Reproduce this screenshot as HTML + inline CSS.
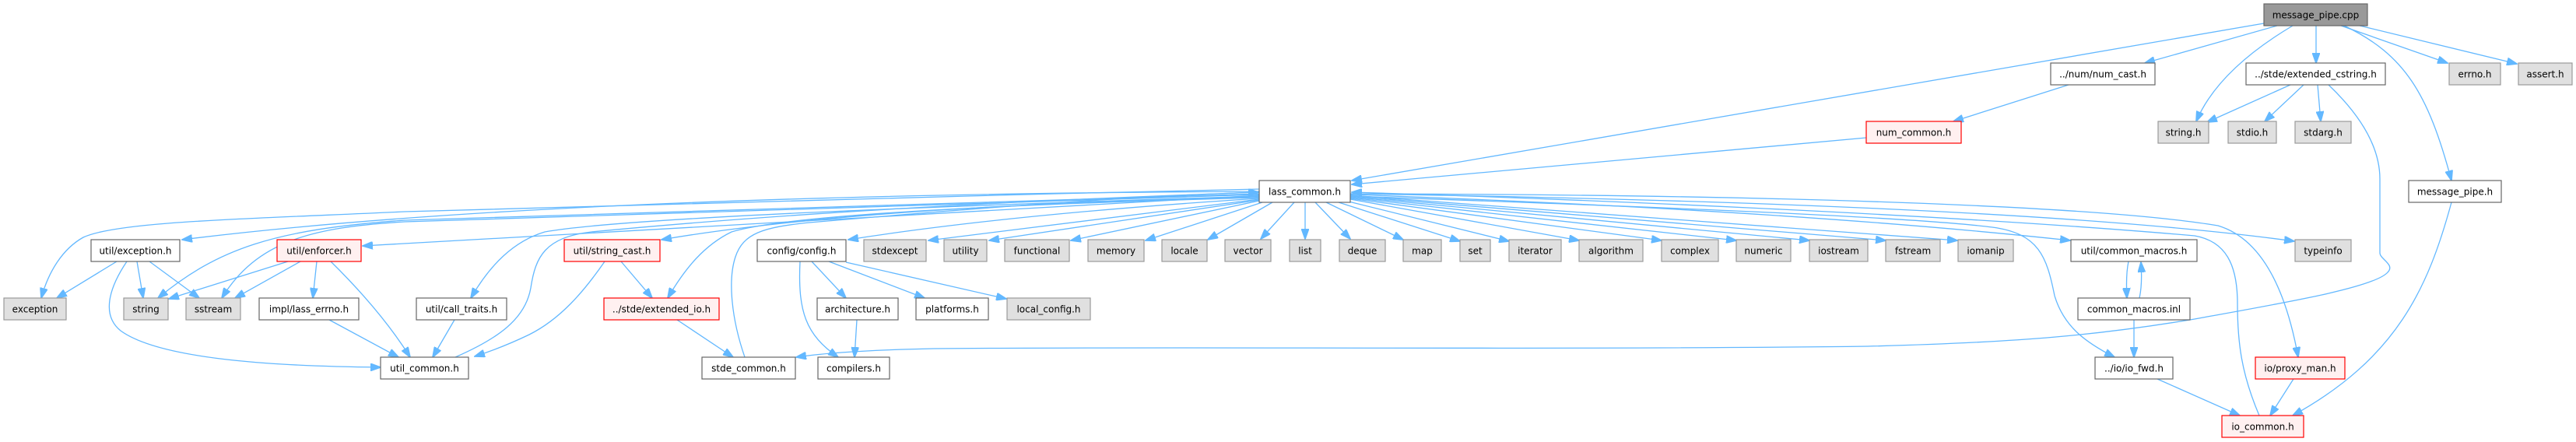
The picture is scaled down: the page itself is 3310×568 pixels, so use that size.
<!DOCTYPE html>
<html><head><meta charset="utf-8"><style>
html,body{margin:0;padding:0;background:#fff;}
svg{display:block;}
text{font-family:"DejaVu Sans","Liberation Sans",sans-serif;font-size:12px;fill:#000;text-anchor:middle;}
.e{fill:none;stroke:#63b8ff;stroke-width:1.3;marker-end:url(#a);}
.n{fill:none;stroke:#63b8ff;stroke-width:1.3;}
.w{fill:#fff;stroke:#666;stroke-width:1.2;}
.g{fill:#e0e0e0;stroke:#999;stroke-width:1.2;}
.r{fill:#fff0f0;stroke:#f00;stroke-width:1.2;}
.k{fill:#999;stroke:#666;stroke-width:1.2;}
</style></head><body>
<svg width="3310" height="568" viewBox="0 0 3310 568" xmlns="http://www.w3.org/2000/svg">
<defs><marker id="a" markerWidth="14" markerHeight="10" refX="13" refY="5" orient="auto" markerUnits="userSpaceOnUse"><path d="M0,0 L14,5 L0,10 z" fill="#63b8ff" stroke="#63b8ff" stroke-width="1"/></marker></defs>

<!-- edges from message_pipe.cpp -->
<path class="e" d="M2909,30 L1737,232"/>
<path class="e" d="M2926,33 L2756,81"/>
<path class="e" d="M2946,33 Q2850,90 2822,156"/>
<path class="e" d="M2976,33 L2976,81"/>
<path class="e" d="M3008,33 L3145,81"/>
<path class="e" d="M3032,33 L3234,82"/>
<path class="e" d="M3012,33 C3090,70 3120,120 3150,232"/>
<!-- num_cast -->
<path class="e" d="M2658,109 L2510,156"/>
<!-- extended_cstring -->
<path class="e" d="M2943,109 L2836,157"/>
<path class="e" d="M2960,109 L2910,156"/>
<path class="e" d="M2978,109 L2982,156"/>
<path class="e" d="M2992,109 C3035,150 3058,190 3058,230 L3058,325 C3058,333 3078,340 3068,350 C3050,370 2930,390 2820,410 C2700,430 2600,440 2400,445 C2000,450 1500,445 1200,448 C1100,450 1050,455 1023,459"/>
<!-- num_common -->
<path class="e" d="M2398,177 L1737,237"/>

<!-- lass_common outgoing left -->
<path class="e" d="M1618,243 C1200,252 700,265 520,272 C300,282 150,285 107,305 C80,320 62,350 53,383"/>
<path class="e" d="M1618,246 Q700,250 234,308"/>
<path class="e" d="M1618,249 L520,283 C350,295 280,320 203,383"/>
<path class="e" d="M1618,250 L520,285 C400,292 330,310 285,383"/>
<path class="e" d="M1618,251 L466,316"/>
<path class="e" d="M1618,252 C1200,265 800,280 700,298 C660,310 630,340 605,383"/>
<path class="e" d="M1618,253 Q1100,265 850,308"/>
<path class="e" d="M1618,254 C1200,265 1000,280 940,298 C905,315 880,345 858,383"/>
<path class="e" d="M1618,255 Q1300,275 1090,308"/>
<path class="e" d="M1618,256 L1193,309"/>
<path class="e" d="M1618,257 L1271,309"/>
<path class="e" d="M1618,258 L1376,309"/>
<path class="e" d="M1622,260 L1472,309"/>
<path class="e" d="M1635,260 L1552,308"/>
<!-- bottom -->
<path class="e" d="M1663,260 L1620,307"/>
<path class="e" d="M1677,260 L1677,307"/>
<path class="e" d="M1690,260 L1735,307"/>
<path class="e" d="M1704,260 L1803,308"/>
<path class="e" d="M1720,260 L1876,310"/>
<path class="e" d="M1733,259 L1939,310"/>
<!-- right -->
<path class="e" d="M1735,256 L2029,309"/>
<path class="e" d="M1735,255 L2135,309"/>
<path class="e" d="M1735,254 L2231,309"/>
<path class="e" d="M1735,253 L2325,309"/>
<path class="e" d="M1735,252 L2423,309"/>
<path class="e" d="M1735,251 L2515,309"/>
<path class="e" d="M1735,250 Q2300,270 2660,309"/>
<path class="e" d="M1735,249 Q2600,262 2948,310"/>
<path class="e" d="M1735,252 C2100,265 2450,278 2560,292 C2620,300 2630,330 2640,380 C2652,420 2680,440 2717,459"/>
<path class="e" d="M1735,249 C2300,250 2700,265 2850,290 C2900,305 2935,360 2953,459"/>
<!-- incoming to lass_common -->
<path class="e" d="M585,459 C640,435 675,410 682,370 C688,330 700,305 760,298 C1000,275 1300,258 1617,247"/>
<path class="e" d="M957,459 C940,410 935,360 945,330 C955,300 980,292 1040,286 C1250,268 1450,252 1617,247"/>
<path class="e" d="M2903,534 C2880,480 2875,440 2875,390 C2875,340 2860,310 2820,303 C2500,275 2000,255 1737,247"/>

<!-- util/exception.h -->
<path class="e" d="M150,336 L73,383"/>
<path class="e" d="M176,336 L184,383"/>
<path class="e" d="M192,336 L256,383"/>
<path class="e" d="M163,336 C140,370 130,405 155,425 C210,465 380,471 489,472"/>
<!-- enforcer -->
<path class="e" d="M370,336 L217,384"/>
<path class="e" d="M386,336 L302,383"/>
<path class="e" d="M407,336 L402,383"/>
<path class="e" d="M425,336 Q490,400 527,459"/>
<path class="e" d="M423,411 L512,459"/>
<path class="e" d="M584,411 L556,459"/>
<!-- string_cast -->
<path class="e" d="M777,336 C750,375 720,410 680,430 C655,442 635,450 610,458"/>
<path class="e" d="M798,336 L838,383"/>
<path class="e" d="M870,411 L942,459"/>
<!-- config -->
<path class="e" d="M1043,336 L1087,383"/>
<path class="e" d="M1065,336 L1188,383"/>
<path class="e" d="M1087,337 L1293,384"/>
<path class="e" d="M1028,336 C1025,400 1035,430 1077,459"/>
<path class="e" d="M1101,411 L1098,459"/>
<!-- common_macros -->
<path class="e" d="M2735,336 C2732,350 2732,365 2733,383"/>
<path class="e" d="M2749,383 C2752,370 2752,352 2751,337"/>
<path class="e" d="M2742,411 L2742,459"/>
<path class="e" d="M2772,487 L2878,534"/>
<path class="e" d="M2947,487 L2917,534"/>
<path class="e" d="M3150,260 C3120,370 3080,460 2946,534"/>

<!-- nodes -->
<rect class="k" x="2909" y="5" width="133" height="28"/><text x="2975.5" y="23.5">message_pipe.cpp</text>

<rect class="w" x="2635" y="81" width="134" height="28"/><text x="2702" y="99.5">../num/num_cast.h</text>
<rect class="w" x="2886" y="81" width="179" height="28"/><text x="2975.5" y="99.5">../stde/extended_cstring.h</text>
<rect class="g" x="3147" y="81" width="66" height="28"/><text x="3180" y="99.5">errno.h</text>
<rect class="g" x="3236" y="81" width="69" height="28"/><text x="3270.5" y="99.5">assert.h</text>

<rect class="r" x="2398" y="156" width="122" height="28"/><text x="2459" y="174.5">num_common.h</text>
<rect class="g" x="2773" y="156" width="65" height="28"/><text x="2805.5" y="174.5">string.h</text>
<rect class="g" x="2863" y="156" width="62" height="28"/><text x="2894" y="174.5">stdio.h</text>
<rect class="g" x="2949" y="156" width="72" height="28"/><text x="2985" y="174.5">stdarg.h</text>

<rect class="w" x="1618" y="232" width="117" height="28"/><text x="1676.5" y="250.5">lass_common.h</text>
<rect class="w" x="3095" y="232" width="119" height="28"/><text x="3154.5" y="250.5">message_pipe.h</text>

<rect class="w" x="117" y="308" width="114" height="28"/><text x="174" y="326.5">util/exception.h</text>
<rect class="r" x="356" y="308" width="108" height="28"/><text x="410" y="326.5">util/enforcer.h</text>
<rect class="r" x="725" y="308" width="123" height="28"/><text x="786.5" y="326.5">util/string_cast.h</text>
<rect class="w" x="973" y="308" width="114" height="28"/><text x="1030" y="326.5">config/config.h</text>
<rect class="g" x="1110" y="308" width="80" height="28"/><text x="1150" y="326.5">stdexcept</text>
<rect class="g" x="1213" y="308" width="55" height="28"/><text x="1240.5" y="326.5">utility</text>
<rect class="g" x="1291" y="308" width="83" height="28"/><text x="1332.5" y="326.5">functional</text>
<rect class="g" x="1398" y="308" width="72" height="28"/><text x="1434" y="326.5">memory</text>
<rect class="g" x="1493" y="308" width="58" height="28"/><text x="1522" y="326.5">locale</text>
<rect class="g" x="1574" y="308" width="59" height="28"/><text x="1603.5" y="326.5">vector</text>
<rect class="g" x="1657" y="308" width="40" height="28"/><text x="1677" y="326.5">list</text>
<rect class="g" x="1721" y="308" width="59" height="28"/><text x="1750.5" y="326.5">deque</text>
<rect class="g" x="1803" y="308" width="49" height="28"/><text x="1827.5" y="326.5">map</text>
<rect class="g" x="1876" y="308" width="39" height="28"/><text x="1895.5" y="326.5">set</text>
<rect class="g" x="1939" y="308" width="67" height="28"/><text x="1972.5" y="326.5">iterator</text>
<rect class="g" x="2029" y="308" width="82" height="28"/><text x="2070" y="326.5">algorithm</text>
<rect class="g" x="2135" y="308" width="73" height="28"/><text x="2171.5" y="326.5">complex</text>
<rect class="g" x="2231" y="308" width="70" height="28"/><text x="2266" y="326.5">numeric</text>
<rect class="g" x="2325" y="308" width="75" height="28"/><text x="2362.5" y="326.5">iostream</text>
<rect class="g" x="2423" y="308" width="70" height="28"/><text x="2458" y="326.5">fstream</text>
<rect class="g" x="2516" y="308" width="71" height="28"/><text x="2551.5" y="326.5">iomanip</text>
<rect class="w" x="2661" y="308" width="162" height="28"/><text x="2742" y="326.5">util/common_macros.h</text>
<rect class="g" x="2949" y="308" width="72" height="28"/><text x="2985" y="326.5">typeinfo</text>

<rect class="g" x="5" y="383" width="80" height="28"/><text x="45" y="401.5">exception</text>
<rect class="g" x="159" y="383" width="57" height="28"/><text x="187.5" y="401.5">string</text>
<rect class="g" x="239" y="383" width="70" height="28"/><text x="274" y="401.5">sstream</text>
<rect class="w" x="333" y="383" width="128" height="28"/><text x="397" y="401.5">impl/lass_errno.h</text>
<rect class="w" x="535" y="383" width="116" height="28"/><text x="593" y="401.5">util/call_traits.h</text>
<rect class="r" x="776" y="383" width="148" height="28"/><text x="850" y="401.5">../stde/extended_io.h</text>
<rect class="w" x="1050" y="383" width="104" height="28"/><text x="1102" y="401.5">architecture.h</text>
<rect class="w" x="1177" y="383" width="93" height="28"/><text x="1223.5" y="401.5">platforms.h</text>
<rect class="g" x="1294" y="383" width="107" height="28"/><text x="1347.5" y="401.5">local_config.h</text>
<rect class="w" x="2670" y="383" width="144" height="28"/><text x="2742" y="401.5">common_macros.inl</text>

<rect class="w" x="489" y="459" width="113" height="28"/><text x="545.5" y="477.5">util_common.h</text>
<rect class="w" x="902" y="459" width="120" height="28"/><text x="962" y="477.5">stde_common.h</text>
<rect class="w" x="1051" y="459" width="92" height="28"/><text x="1097" y="477.5">compilers.h</text>
<rect class="w" x="2692" y="459" width="100" height="28"/><text x="2742" y="477.5">../io/io_fwd.h</text>
<rect class="r" x="2898" y="459" width="115" height="28"/><text x="2955.5" y="477.5">io/proxy_man.h</text>

<rect class="r" x="2855" y="534" width="105" height="28"/><text x="2907.5" y="552.5">io_common.h</text>
</svg>
</body></html>
